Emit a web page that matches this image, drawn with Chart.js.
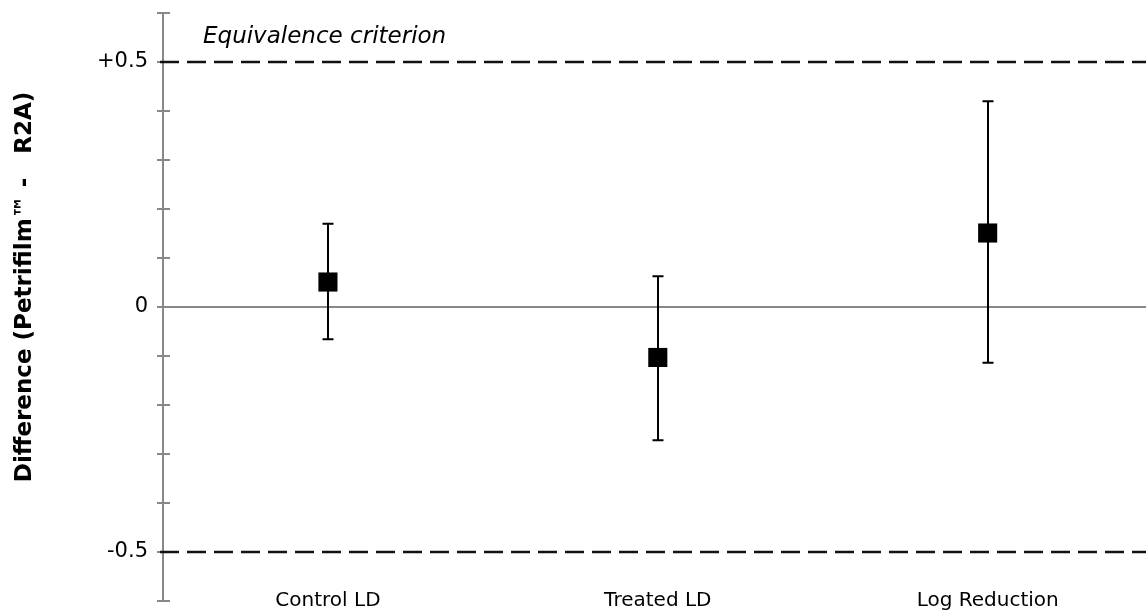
<!DOCTYPE html>
<html lang="en">
<head>
    <meta charset="UTF-8">
    <title>Equivalence plot</title>
    <script src="https://cdn.jsdelivr.net/npm/chart.js"></script>
    <style>
        body { margin: 0; background: #fff; }
        #wrap { width: 1146px; height: 613px; }
    </style>
</head>
<body>
    <div id="wrap"><canvas id="diffChart"></canvas></div>

    <script>
        // Data
        const categories = ['Control LD', 'Treated LD', 'Log Reduction'];
        const meanDiff = [0.051, -0.103, 0.151];
        const lowerLimits = [-0.066, -0.272, -0.114];
        const upperLimits = [0.170, 0.063, 0.420];
        const criterion = [0.5, -0.5];
        const yLabels = { '0.5': '+0.5', '0': '0', '-0.5': '-0.5' };

        const FONT = "'DejaVu Sans', Verdana, sans-serif";

        // error bars, axis cross ticks, criterion lines and the caption
        const extras = {
            id: 'extras',
            beforeDatasetsDraw(chart) {
                const { ctx, chartArea, scales: { x, y } } = chart;
                ctx.save();

                // small ticks crossing the y axis
                ctx.strokeStyle = '#888';
                ctx.lineWidth = 2;
                y.ticks.forEach(t => {
                    const py = Math.round(y.getPixelForValue(t.value));
                    ctx.beginPath();
                    ctx.moveTo(chartArea.left - 6, py);
                    ctx.lineTo(chartArea.left + 7, py);
                    ctx.stroke();
                });

                // dashed equivalence limits
                ctx.strokeStyle = '#111';
                ctx.lineWidth = 2.5;
                ctx.setLineDash([19, 8]);
                criterion.forEach(v => {
                    const py = Math.round(y.getPixelForValue(v));
                    ctx.beginPath();
                    ctx.moveTo(chartArea.left - 3, py);
                    ctx.lineTo(chart.width, py);
                    ctx.stroke();
                });
                ctx.setLineDash([]);

                // caption above the upper limit
                ctx.fillStyle = '#000';
                ctx.font = 'italic 23px ' + FONT;
                ctx.textBaseline = 'middle';
                ctx.fillText('Equivalence criterion', chartArea.left + 40, y.getPixelForValue(criterion[0]) - 25);

                // error bars
                ctx.strokeStyle = '#000';
                ctx.lineWidth = 2;
                categories.forEach((c, i) => {
                    const px = Math.round(x.getPixelForValue(i));
                    const top = y.getPixelForValue(upperLimits[i]);
                    const bot = y.getPixelForValue(lowerLimits[i]);
                    ctx.beginPath();
                    ctx.moveTo(px, top);
                    ctx.lineTo(px, bot);
                    ctx.moveTo(px - 5.5, top);
                    ctx.lineTo(px + 5.5, top);
                    ctx.moveTo(px - 5.5, bot);
                    ctx.lineTo(px + 5.5, bot);
                    ctx.stroke();
                });
                ctx.restore();
            }
        };

        const ctx = document.getElementById('diffChart').getContext('2d');
        const myChart = new Chart(ctx, {
            type: 'scatter',
            data: {
                datasets: [{
                    data: meanDiff.map((v, i) => ({ x: i, y: v })),
                    pointStyle: 'rect',
                    pointRadius: 13.5,
                    pointBorderWidth: 0,
                    pointBackgroundColor: '#000',
                    borderColor: '#000'
                }]
            },
            options: {
                responsive: true,
                maintainAspectRatio: false,
                animation: false,
                layout: { autoPadding: false, padding: { top: 13, left: 0, right: 0, bottom: 0 } },
                plugins: {
                    legend: { display: false },
                    tooltip: { enabled: false }
                },
                scales: {
                    x: {
                        type: 'linear',
                        // the original plot runs a little past the right edge of the picture
                        min: -0.5,
                        max: 2.48,
                        grid: { display: false },
                        border: { display: false },
                        afterBuildTicks(scale) {
                            scale.ticks = categories.map((c, i) => ({ value: i }));
                        },
                        ticks: {
                            color: '#000',
                            font: { family: FONT, size: 20 },
                            mirror: true,   // labels sit just above the bottom edge, unclipped
                            padding: -12,
                            maxRotation: 0,
                            callback: v => categories[v]
                        },
                        afterFit(scale) {
                            scale.height = 12;
                            scale.paddingLeft = 0;
                            scale.paddingRight = 0;
                        }
                    },
                    y: {
                        min: -0.6,
                        max: 0.6,
                        grid: {
                            drawTicks: false,
                            lineWidth: 2,
                            color: c => Math.abs(c.tick.value) < 1e-6 ? '#888' : 'rgba(0,0,0,0)'
                        },
                        border: { color: '#888', width: 2 },
                        ticks: {
                            stepSize: 0.1,
                            color: '#000',
                            padding: 15,
                            font: { family: FONT, size: 21 },
                            callback: v => {
                                const k = String(Math.round(v * 10) / 10);
                                return yLabels[k] !== undefined && Math.abs(v * 10 - Math.round(v * 10)) < 1e-6 ? yLabels[k] : '';
                            }
                        },
                        title: {
                            display: true,
                            // leading spaces nudge the centred title up a little, as in the original
                            text: '     Difference (Petrifilm\u2122 -   R2A)',
                            color: '#000',
                            font: { family: FONT, size: 23, weight: 'bold' },
                            padding: { top: 11, bottom: 0 }
                        },
                        afterFit(scale) {
                            scale.width = 163;
                            scale.paddingTop = 0;
                            scale.paddingBottom = 0;
                        }
                    }
                }
            },
            plugins: [extras]
        });
    </script>
</body>
</html>
